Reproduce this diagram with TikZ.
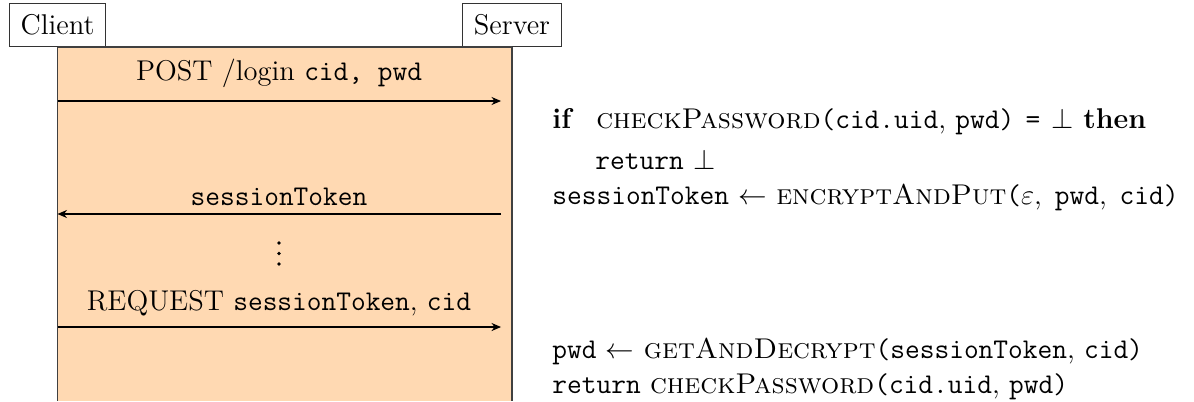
\documentclass[tikz,border=0pt]{standalone}
\usetikzlibrary{arrows.meta}
\newcommand{\tto}{\texttt{(}}
\newcommand{\ttc}{\texttt{)}}
\newcommand{\argsep}{,\hspace{0.45em}}
\begin{document}
\begin{tikzpicture}[x=0.42pt,y=-0.42pt,
  actor/.style={draw=black!80,fill=white,font=\large,inner sep=4.7pt},
  lifeline/.style={draw=black!75,line width=0.5pt},
  msg/.style={-{Stealth[length=4pt,width=3.4pt]},line width=0.45pt},
  msglabel/.style={font=\large,inner sep=0pt},
  algo/.style={anchor=west,inner sep=0pt,font=\large},
]
\useasboundingbox (0,0) rectangle (1194,401);
% participants
\node[actor] (client) at (57.5,25) {Client};
\node[actor] (server) at (512,25) {Server};
\coordinate (cbot) at (client.south |- 0,401);
\coordinate (sbot) at (server.south |- 0,401);
% activation region between the two lifelines
\fill[orange!30] (client.south) rectangle (sbot);
\draw[lifeline] (client.south) -- (server.south);
\draw[lifeline] (client.south) -- (cbot);
\draw[lifeline] (server.south) -- (sbot);
% messages
\coordinate (m1s) at (client.south |- 0,101);
\coordinate (m1e) at (501,101);
\coordinate (m2s) at (501,214);
\coordinate (m2e) at (client.south |- 0,214);
\coordinate (m3s) at (client.south |- 0,327);
\coordinate (m3e) at (501,327);
\draw[msg] (m1s) -- (m1e);
\draw[msg] (m2s) -- (m2e);
\draw[msg] (m3s) -- (m3e);
\node[msglabel] (l1) at (279,73) {POST /login \texttt{cid, pwd}};
\node[msglabel] (l2) at (279,197) {\texttt{sessionToken}};
% vertical ellipsis between the two exchanges
\foreach \yy in {243,253.5,264} \fill (279,\yy) circle (0.8pt);
\node[msglabel] (l3) at (279,303) {REQUEST \texttt{sessionToken}, \texttt{cid}};
% server-side steps
\node[algo] (a1) at (552,122) {\textbf{if}\hspace{0.8em}\textsc{checkPassword}\tto\texttt{cid.uid}, \texttt{pwd}\ttc\hspace{0.4em}\texttt{=}\hspace{0.4em}$\bot$ \textbf{then}};
\node[algo] (a2) at (595,160) {\texttt{return} $\bot$};
\node[algo] (a3) at (552,197) {\texttt{sessionToken} $\leftarrow$ \textsc{encryptAndPut}\tto$\varepsilon$\argsep\texttt{pwd}\argsep\texttt{cid}\ttc};
\node[algo] (a4) at (552,351) {\texttt{pwd} $\leftarrow$ \textsc{getAndDecrypt}\tto\texttt{sessionToken}, \texttt{cid}\ttc};
\node[algo] (a5) at (552,387) {\texttt{return} \textsc{checkPassword}\tto\texttt{cid.uid}, \texttt{pwd}\ttc};
\end{tikzpicture}
\end{document}
